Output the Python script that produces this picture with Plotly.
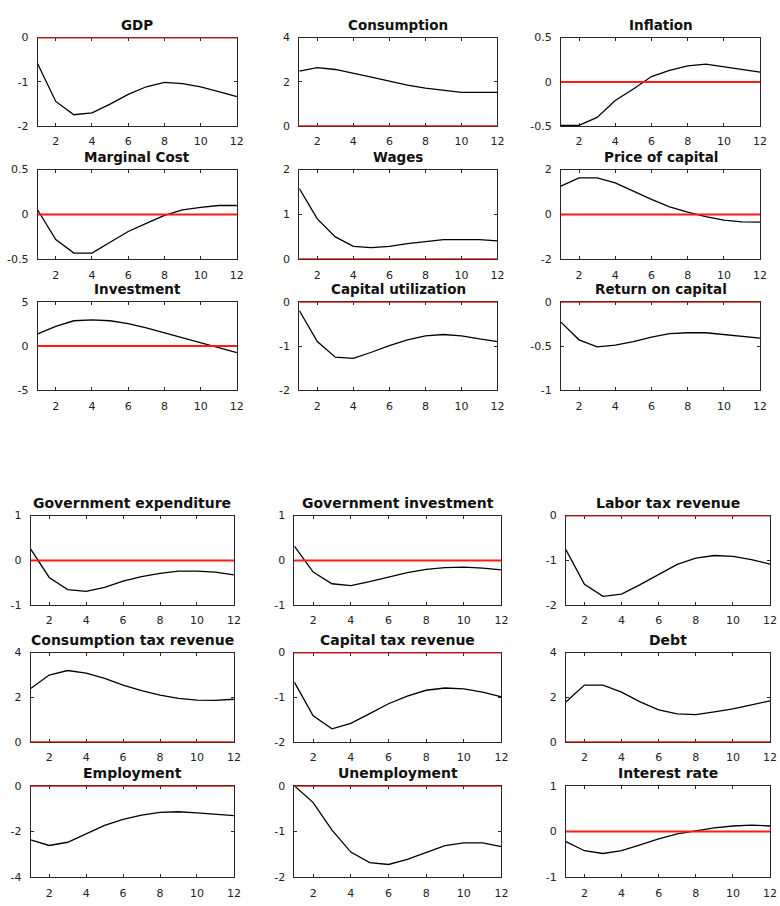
import plotly.graph_objects as go

# ---------------- data ----------------
periods = list(range(1, 13))
x_tick_vals = [2, 4, 6, 8, 10, 12]
x_tick_text = ["2", "4", "6", "8", "10", "12"]

# top figure
gdp = [-0.59, -1.44, -1.74, -1.70, -1.50, -1.28, -1.11, -1.01, -1.04, -1.11, -1.22, -1.33]
consumption = [2.49, 2.64, 2.56, 2.40, 2.22, 2.04, 1.85, 1.72, 1.61, 1.53, 1.53, 1.53]
inflation = [-0.49, -0.49, -0.40, -0.21, -0.08, 0.06, 0.13, 0.18, 0.20, 0.17, 0.14, 0.11]
marginal_cost = [0.05, -0.28, -0.43, -0.43, -0.31, -0.19, -0.10, -0.01, 0.05, 0.08, 0.10, 0.10]
wages = [1.58, 0.90, 0.50, 0.29, 0.26, 0.29, 0.35, 0.40, 0.44, 0.44, 0.44, 0.41]
price_of_capital = [1.26, 1.63, 1.63, 1.41, 1.04, 0.67, 0.34, 0.10, -0.10, -0.25, -0.33, -0.34]
investment = [1.37, 2.22, 2.85, 2.96, 2.85, 2.52, 2.04, 1.48, 0.93, 0.37, -0.26, -0.74]
capital_utilization = [-0.20, -0.90, -1.25, -1.28, -1.14, -0.99, -0.86, -0.77, -0.74, -0.77, -0.84, -0.90]
return_on_capital = [-0.23, -0.43, -0.51, -0.49, -0.45, -0.40, -0.36, -0.35, -0.35, -0.37, -0.39, -0.41]

# bottom figure
government_expenditure = [0.25, -0.38, -0.65, -0.69, -0.60, -0.46, -0.36, -0.29, -0.24, -0.24, -0.26, -0.32]
government_investment = [0.32, -0.26, -0.52, -0.56, -0.47, -0.37, -0.27, -0.20, -0.16, -0.15, -0.17, -0.21]
labor_tax_revenue = [-0.76, -1.53, -1.80, -1.75, -1.54, -1.32, -1.09, -0.95, -0.89, -0.91, -0.98, -1.08]
consumption_tax_revenue = [2.40, 3.00, 3.20, 3.08, 2.85, 2.55, 2.30, 2.10, 1.96, 1.88, 1.87, 1.92]
capital_tax_revenue = [-0.66, -1.41, -1.70, -1.58, -1.36, -1.14, -0.97, -0.84, -0.79, -0.81, -0.88, -0.99]
debt = [1.80, 2.55, 2.55, 2.24, 1.80, 1.45, 1.27, 1.23, 1.36, 1.49, 1.67, 1.85]
employment = [-2.37, -2.61, -2.47, -2.11, -1.73, -1.47, -1.29, -1.17, -1.14, -1.19, -1.26, -1.31]
unemployment = [0.00, -0.37, -0.97, -1.45, -1.68, -1.72, -1.61, -1.46, -1.31, -1.25, -1.25, -1.33]
interest_rate = [-0.22, -0.42, -0.48, -0.42, -0.29, -0.16, -0.05, 0.01, 0.08, 0.12, 0.14, 0.12]

# y tick labels per panel
yt_m2_0 = [-2, -1, 0]
yt_0_4 = [0, 2, 4]
yt_half = [-0.5, 0, 0.5]
yt_0_2 = [0, 1, 2]
yt_m2_2 = [-2, 0, 2]
yt_m5_5 = [-5, 0, 5]
yt_m1_0 = [-1, -0.5, 0]
yt_m1_1 = [-1, 0, 1]
yt_m4_0 = [-4, -2, 0]

titles_top = ["GDP", "Consumption", "Inflation",
              "Marginal Cost", "Wages", "Price of capital",
              "Investment", "Capital utilization", "Return on capital"]
titles_bottom = ["Government expenditure", "Government investment", "Labor tax revenue",
                 "Consumption tax revenue", "Capital tax revenue", "Debt",
                 "Employment", "Unemployment", "Interest rate"]

series_top = [gdp, consumption, inflation, marginal_cost, wages, price_of_capital,
              investment, capital_utilization, return_on_capital]
series_bottom = [government_expenditure, government_investment, labor_tax_revenue,
                 consumption_tax_revenue, capital_tax_revenue, debt,
                 employment, unemployment, interest_rate]
yticks_top = [yt_m2_0, yt_0_4, yt_half, yt_half, yt_0_2, yt_m2_2, yt_m5_5, yt_m2_0, yt_m1_0]
yticks_bottom = [yt_m1_1, yt_m1_1, yt_m2_0, yt_0_4, yt_m2_0, yt_0_4, yt_m4_0, yt_m2_0, yt_m1_1]

# ---------------- layout geometry (pixels) ----------------
W, H = 780, 906
top_cols = [(38, 239), (302, 502), (566, 767)]
top_rows = [(32, 122), (166, 257), (300, 390)]
bot_cols = [(31, 236), (297, 506), (571, 777)]
bot_rows = [(517, 608), (656, 747), (791, 884)]

panels = []
for i in range(9):
    r, c = divmod(i, 3)
    panels.append(dict(title=titles_top[i], y=series_top[i], yt=yticks_top[i],
                       col=top_cols[c], row=top_rows[r], tsize=13.5))
for i in range(9):
    r, c = divmod(i, 3)
    panels.append(dict(title=titles_bottom[i], y=series_bottom[i], yt=yticks_bottom[i],
                       col=bot_cols[c], row=bot_rows[r], tsize=14))


def fmt(v):
    return "%g" % v


fig = go.Figure()
layout = dict(width=W, height=H, margin=dict(l=0, r=0, t=0, b=0),
              paper_bgcolor="white", plot_bgcolor="white", showlegend=False,
              annotations=[], shapes=[])

tickfont = dict(family="DejaVu Sans", size=11, color="#222222")
axcol = "#262626"

for k, p in enumerate(panels):
    n = k + 1
    xa = "x" if n == 1 else f"x{n}"
    ya = "y" if n == 1 else f"y{n}"
    xkey = "xaxis" if n == 1 else f"xaxis{n}"
    ykey = "yaxis" if n == 1 else f"yaxis{n}"
    l, rr = p["col"]
    t, b = p["row"]
    layout[xkey] = dict(domain=[l / W, rr / W], anchor=ya, range=[periods[0], periods[-1]],
                        tickvals=x_tick_vals, ticktext=x_tick_text, ticks="inside", ticklen=3,
                        tickcolor=axcol, showline=True, linecolor=axcol, linewidth=1,
                        mirror="ticks", showgrid=False, zeroline=False, tickfont=tickfont,
                        ticklabelstandoff=5, layer="below traces")
    yt = p["yt"]
    layout[ykey] = dict(domain=[1 - b / H, 1 - t / H], anchor=xa, range=[yt[0], yt[-1]],
                        tickvals=yt, ticktext=[fmt(v) for v in yt], ticks="inside", ticklen=3,
                        tickcolor=axcol, showline=True, linecolor=axcol, linewidth=1,
                        mirror="ticks", showgrid=False, zeroline=False, tickfont=tickfont,
                        ticklabelstandoff=6, layer="below traces")
    fig.add_trace(go.Scatter(x=periods, y=p["y"], mode="lines", xaxis=xa, yaxis=ya,
                             line=dict(color="black", width=1.3), hoverinfo="skip"))
    layout["shapes"].append(dict(type="line", xref=f"{xa} domain", yref=ya, x0=0, x1=1,
                                 y0=0, y1=0, line=dict(color="#ff1a1a", width=2), layer="above"))
    layout["annotations"].append(dict(text=f"<b>{p['title']}</b>", xref="paper", yref="paper",
                                      x=(l + rr) / 2 / W, y=1 - t / H, xanchor="center",
                                      yanchor="bottom", yshift=4, borderpad=0, showarrow=False,
                                      font=dict(family="DejaVu Sans", size=p["tsize"], color="#111111")))

fig.update_layout(**layout)
fig.write_html("out.html")
